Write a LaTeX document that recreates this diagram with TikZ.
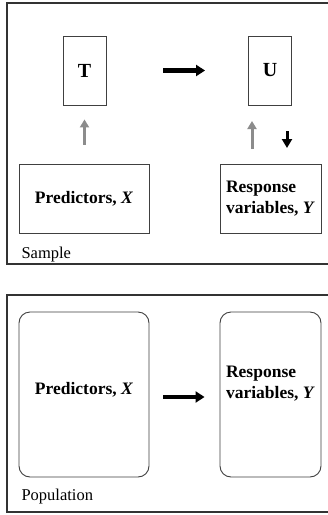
\documentclass[tikz,border=0pt]{standalone}
\usepackage{fontspec}
\setmainfont{Liberation Serif}
\usetikzlibrary{arrows.meta}
\tikzset{
  box/.style={draw=black!75, line width=0.9pt, inner sep=0pt, align=left,
    font=\bfseries\fontsize{17.5}{21}\selectfont},
  letterbox/.style={box, minimum width=43pt, minimum height=69pt,
    font=\bfseries\fontsize{20}{22}\selectfont},
  popbox/.style={box, rounded corners=11pt, minimum height=165pt},
  frame/.style={draw=black!80, line width=1.6pt},
  tag/.style={anchor=west, font=\fontsize{16.5}{18}\selectfont},
  blkarrow/.style={-{Triangle[length=9pt,width=11pt]}, line width=4.5pt},
  grayarrow/.style={-{Triangle[length=8pt,width=9pt]}, line width=3pt, draw=black!45, fill=black!45},
}
\begin{document}
\begin{tikzpicture}[x=1pt, y=-1pt]
\clip (0,0) rectangle (328,515);
\fill[white] (0,0) rectangle (328,515);

% sample
\draw[frame] (7,3) rectangle (340,264);
\node[letterbox] (T) at (84.5,70.5) {T};
\node[letterbox] (U) at (270,70.5) {U};
\node[box, minimum width=130pt, minimum height=69pt] (predS) at (84,198.5) {Predictors, \textit{X}};
\node[box, minimum width=101pt, minimum height=69pt] (respS) at (270.5,198.5) {Response\\variables, \textit{Y}};
\node[tag] (sample) at (18,255) {Sample};

\draw[blkarrow, shorten <=57pt, shorten >=43pt] (T.east) -- (U.west);
\draw[grayarrow, shorten <=19pt, shorten >=14pt] (predS.north -| T) -- (T.south);
\coordinate (ua) at (252,164);
\coordinate (ub) at (252,105);
\draw[grayarrow, shorten <=15pt, shorten >=16pt] (ua) -- (ub);
\coordinate (da) at (287,105);
\coordinate (db) at (287,164);
\draw[blkarrow, line width=3pt, -{Triangle[length=9pt,width=10pt]}, shorten <=26pt, shorten >=16pt] (da) -- (db);

% population
\draw[frame] (7,295) rectangle (340,512);
\node[popbox, minimum width=130pt, text height=12pt, text depth=13pt] (predP) at (84,394.5) {Predictors, \textit{X}};
\node[popbox, minimum width=101pt] (respP) at (270.5,394.5) {Response\\variables, \textit{Y}\\[4pt]};
\node[tag] (population) at (18,497) {Population};
\draw[blkarrow, shorten <=14pt, shorten >=15pt] (predP.east |- 0,397) -- (respP.west |- 0,397);
\end{tikzpicture}
\end{document}
